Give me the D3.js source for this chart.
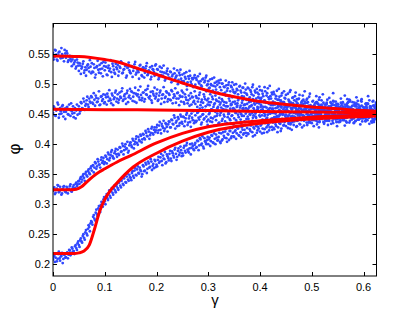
<!DOCTYPE html>
<html>
<head>
<meta charset="utf-8">
<script src="https://cdn.jsdelivr.net/npm/d3@7"></script>
<style>
html,body{margin:0;padding:0;background:#fff;}
svg{display:block;}
</style>
</head>
<body>
<svg id="chart" width="415" height="312"></svg>
<script>
// ---- data: phi values in thousandths. "a" samples sit at gamma = i*0.0025,
// "b" samples sit half a step later, gamma = (i+0.5)*0.0025 ----
const gammaStep = 0.0025;
const xTicks = [0, 0.1, 0.2, 0.3, 0.4, 0.5, 0.6];
const xTickLabels = ["0", "0.1", "0.2", "0.3", "0.4", "0.5", "0.6"];
const yTicks = [0.2, 0.25, 0.3, 0.35, 0.4, 0.45, 0.5, 0.55];
const yTickLabels = ["0.2", "0.25", "0.3", "0.35", "0.4", "0.45", "0.5", "0.55"];

const phi1a = [
552,545,556,541,549,554,543,550,547,557,
544,551,540,547,538,541,533,539,529,536,
522,531,526,534,519,528,524,533,521,529,
535,520,527,516,530,524,532,518,526,537,
523,529,515,531,526,520,534,524,517,528,
532,521,527,536,519,525,530,514,528,523,
518,529,522,533,516,526,520,531,524,513,
527,519,530,515,523,528,512,525,520,531,
517,524,511,521,527,514,519,509,522,516,
510,520,513,506,518,512,523,507,515,509,
516,505,512,520,503,509,514,500,508,511,
499,507,513,501,505,496,509,503,511,498,
505,494,500,509,497,502,491,499,506,495,
490,501,496,486,498,493,503,488,495,491,
499,487,492,483,496,489,480,494,486,491,
482,493,478,487,495,481,489,476,486,483,
490,477,484,472,488,481,493,475,480,486,
471,483,476,489,468,479,473,485,470,477,
482,466,474,487,469,477,462,480,471,468,
476,463,470,481,458,468,474,461,479,465,
459,472,464,455,470,467,478,457,463,469,
456,466,474,451,462,468,459,471,453,464,
467,455,462,448,470,458,452,465,461,474,
450,463,457,469,446,459,466,454,472,449,
461,452,468,457,445,463,455,471,449,460,458];
const phi1b = [
541,557,549,539,553,546,560,544,538,551,
555,537,546,542,530,545,536,526,541,531,
535,517,529,538,523,514,531,527,540,518,
521,533,511,528,539,519,525,535,513,530,
536,516,527,522,540,512,530,519,534,525,
514,529,538,518,524,533,511,527,536,520,
530,512,527,537,519,523,509,532,515,528,
511,526,535,517,521,508,530,524,514,533,
525,508,529,515,520,531,506,518,526,511,
521,503,516,526,509,514,500,519,524,505,
502,518,509,497,513,522,504,510,495,515,
510,494,504,517,498,508,491,506,514,500,
493,508,498,489,511,496,504,486,502,507,
501,484,495,506,489,499,481,497,503,487,
485,500,490,477,497,486,494,479,501,484,
494,475,490,483,499,472,486,492,478,496,
474,489,480,495,470,485,478,497,468,483,
487,466,480,474,492,463,481,469,488,476,
465,484,471,490,460,478,473,486,457,475,
482,459,472,467,488,455,476,464,484,460,
471,452,468,480,458,474,449,466,483,456,
448,469,460,477,454,465,485,450,471,458,
466,447,476,453,462,481,444,468,457,473,
455,470,443,464,478,451,460,445,475,462,
448,467,458,480,446,463,453,472,442,466];

const phi2a = [
452,461,447,458,466,450,455,463,446,459,
454,462,449,457,468,451,445,460,456,449,
463,455,468,459,471,464,473,466,476,469,
478,467,474,481,470,476,465,479,472,483,
470,478,484,472,476,468,481,475,486,471,
483,474,479,488,472,480,476,485,470,481,
476,487,479,471,484,481,490,474,482,477,
486,475,483,492,478,480,473,488,481,476,
484,472,481,489,476,483,470,479,486,475,
482,473,488,477,480,469,485,476,481,471,
479,470,483,474,468,481,476,466,478,472,
467,477,471,482,465,474,469,479,463,473,
476,465,470,479,462,468,474,460,471,466,
461,472,465,457,469,463,476,459,466,470,
458,467,462,473,455,464,469,457,466,460,
467,455,463,471,452,460,466,454,462,468,
453,464,458,470,449,461,456,467,451,459,
465,452,460,447,463,457,471,450,458,462,
449,461,455,468,446,459,452,464,457,444,
460,451,466,454,447,462,456,470,448,458,
452,463,445,457,468,450,459,443,461,455,
466,449,456,442,460,453,467,447,455,462,
446,458,451,465,440,456,462,449,470,453,
459,445,454,466,448,457,441,463,450,456,
447,461,452,468,444,455,459,442,464,450,457];
const phi2b = [
463,448,456,469,444,460,451,465,454,442,
461,450,466,447,455,463,452,443,466,458,
451,470,460,476,457,467,479,462,471,480,
469,485,464,477,471,488,466,480,475,468,
482,466,479,490,473,484,465,478,489,476,
469,486,477,493,474,483,467,489,478,492,
488,472,485,494,469,483,478,496,473,486,
471,490,482,497,476,487,469,484,494,479,
491,474,486,467,482,495,477,488,471,484,
474,490,468,483,493,476,486,465,479,489,
486,467,478,491,473,464,485,479,470,488,
480,462,476,486,470,461,483,475,488,466,
470,483,458,475,466,481,472,456,477,469,
475,458,470,481,463,454,472,467,478,460,
471,452,468,476,461,450,473,465,456,474,
458,470,449,465,475,457,446,469,461,477,
466,448,462,473,455,444,468,460,476,452,
455,469,445,461,474,450,463,441,466,456,
463,447,472,452,458,467,440,462,475,451,
449,465,455,474,443,459,469,446,463,452,
461,441,458,470,448,464,454,473,445,459,
450,467,439,457,463,446,472,452,460,443,
462,448,469,455,441,466,451,475,447,458,
449,464,455,438,468,452,460,446,471,444,
458,443,466,450,473,447,456,439,462,451];

const phi3a = [
322,328,319,326,331,321,324,318,329,323,
320,327,324,330,322,326,332,327,336,333,
339,342,337,347,344,351,348,355,352,360,
356,365,361,368,363,371,366,374,369,377,
370,379,375,383,377,387,380,376,388,383,
391,382,394,388,397,390,400,393,386,398,
403,395,406,400,409,402,412,405,414,408,
416,408,419,413,421,415,426,418,424,420,
428,419,431,424,434,427,422,435,429,433,
437,428,440,433,444,436,430,442,435,446,
434,445,438,449,432,443,437,451,440,435,
448,439,453,441,446,436,450,443,455,438,
441,452,444,437,456,446,440,451,435,448,
454,442,449,438,457,445,451,440,447,459,
443,452,436,449,456,441,447,460,438,451,
455,442,450,463,439,448,454,444,458,437,
446,457,441,452,462,443,449,456,438,453,
459,445,451,440,464,448,455,442,450,461,
444,456,437,452,460,447,453,441,466,449,
455,443,458,448,439,462,450,445,457,436,
453,446,465,442,451,458,437,449,460,444,
456,441,450,463,447,454,439,459,445,467,
448,457,440,453,462,444,451,436,458,449,
461,443,455,447,466,450,441,457,452,438,
454,446,463,440,451,459,445,456,437,462,449];
const phi3b = [
327,317,324,332,320,329,316,325,330,321,
329,318,325,333,321,329,325,334,330,338,
334,345,341,350,339,354,346,358,350,363,
364,353,370,359,375,366,361,378,372,367,
381,368,386,373,382,390,377,385,392,379,
384,395,387,401,383,396,392,404,389,402,
398,409,393,404,413,399,407,416,403,417,
410,422,414,425,409,419,429,416,428,423,
432,423,437,418,430,439,426,433,421,438,
428,441,434,448,426,439,445,431,449,437,
446,430,443,452,436,447,429,444,455,439,
437,452,444,459,433,449,441,457,446,432,
450,438,458,443,431,454,447,462,436,452,
439,458,446,463,435,450,442,465,448,433,
457,440,464,445,453,434,459,447,466,442,
446,461,436,455,444,468,451,433,459,448,
462,440,455,447,469,436,458,451,465,443,
452,437,467,446,456,434,461,449,470,441,
458,443,463,435,454,468,446,460,439,457,
447,466,441,456,471,444,452,436,463,450,
440,459,448,469,437,455,464,443,457,434,
462,445,456,439,470,451,443,465,448,457,
437,460,449,468,444,455,438,463,452,471,
446,458,435,463,449,472,441,455,464,443,
459,438,452,467,445,461,436,457,448,469];

const phi4a = [
208,215,211,205,217,210,213,219,209,216,
212,220,216,223,219,226,222,230,227,235,
232,240,238,247,244,253,251,259,262,268,
270,279,276,286,283,293,290,299,303,308,
305,313,310,318,314,322,319,326,323,330,
327,336,331,339,334,343,337,346,341,349,
344,352,347,356,349,358,352,361,355,350,
363,356,366,359,368,362,371,364,360,372,
366,374,369,378,372,381,375,368,383,377,
384,376,388,381,391,384,379,393,386,390,
385,394,389,398,391,386,400,394,397,390,
402,395,405,398,408,401,396,410,403,407,
400,411,405,414,402,409,416,406,412,404,
418,408,414,421,410,417,407,422,413,419,
412,423,418,426,414,420,428,416,424,419,
427,417,425,431,420,428,415,430,423,426,
421,433,426,419,435,428,431,423,437,429,
436,425,433,440,428,435,422,438,431,437,
430,441,434,426,444,437,432,445,429,439,
443,433,440,448,431,442,436,449,438,445,
435,446,440,452,433,444,438,450,442,437,
448,439,455,441,446,434,451,443,449,437,
442,453,438,447,456,440,449,444,458,436,
451,441,455,446,439,452,448,460,443,450,
445,457,440,452,447,461,438,454,449,443,456];
const phi4b = [
213,204,218,209,221,206,214,202,216,211,
218,210,224,215,228,221,217,232,224,238,
229,243,236,250,241,257,248,265,255,272,
266,282,273,291,280,297,287,304,296,312,
300,317,307,323,311,327,316,331,320,334,
324,339,328,343,332,348,336,351,339,345,
340,355,344,360,348,363,351,357,346,365,
355,369,352,371,361,375,357,367,374,362,
363,379,371,384,365,376,387,370,380,373,
389,372,385,378,394,374,389,382,396,380,
381,397,386,402,388,393,383,401,392,399,
394,406,390,410,399,413,393,405,400,412,
408,397,415,403,418,400,411,407,419,402,
406,420,411,425,404,416,422,410,427,413,
421,409,427,415,430,411,424,418,432,414,
418,432,422,436,413,426,434,419,429,438,
431,418,438,425,441,420,433,428,442,424,
427,443,430,420,446,434,426,441,432,447,
440,427,448,433,424,445,438,451,430,442,
434,450,428,446,441,455,432,444,437,452,
447,430,454,439,448,428,451,443,457,436,
440,456,432,449,445,459,435,452,441,430,
451,437,460,443,449,431,455,446,462,439,
444,458,436,453,463,441,450,433,457,447,
452,439,461,445,434,456,448,464,441,453];

// model curves: [gamma, phi]
const curve1 = [[0,0.547],[0.05,0.546],[0.1,0.541],[0.125,0.537],[0.15,0.53],[0.175,0.523],[0.2,0.516],[0.25,0.502],[0.3,0.489],[0.35,0.479],[0.4,0.471],[0.45,0.466],[0.5,0.462],[0.55,0.459],[0.6,0.456],[0.625,0.455]];
const curve2 = [[0,0.458],[0.1,0.4575],[0.2,0.457],[0.3,0.456],[0.4,0.4545],[0.5,0.4535],[0.625,0.452]];
const curve3 = [[0,0.324],[0.03,0.324],[0.045,0.325],[0.055,0.329],[0.065,0.337],[0.077,0.346],[0.09,0.354],[0.1,0.359],[0.123,0.37],[0.15,0.381],[0.2,0.402],[0.25,0.418],[0.3,0.429],[0.35,0.435],[0.4,0.439],[0.5,0.445],[0.625,0.449]];
const curve4 = [[0,0.218],[0.04,0.218],[0.05,0.219],[0.06,0.222],[0.07,0.232],[0.08,0.258],[0.09,0.288],[0.1,0.308],[0.11,0.322],[0.123,0.335],[0.155,0.362],[0.2,0.385],[0.25,0.405],[0.3,0.42],[0.35,0.429],[0.4,0.435],[0.5,0.442],[0.625,0.447]];

// ---- layout ----
const svg = d3.select("#chart");
const L = 53, R = 376.5, T = 23.5, B = 276;
const x = d3.scaleLinear().domain([0, 0.625]).range([L, R]);
const y = d3.scaleLinear().domain([0.1805, 0.601]).range([B, T]);

svg.append("defs").append("clipPath").attr("id", "clip")
  .append("rect").attr("x", L).attr("y", T).attr("width", R - L).attr("height", B - T);

const plot = svg.append("g").attr("clip-path", "url(#clip)");
const dotColor = "#3047ff";
const series = [[phi1a, phi1b], [phi2a, phi2b], [phi3a, phi3b], [phi4a, phi4b]];
series.forEach(([a, b]) => {
  const pts = a.map((v, i) => [i * gammaStep, v / 1000])
    .concat(b.map((v, i) => [(i + 0.5) * gammaStep, v / 1000]));
  plot.append("g").selectAll("circle")
    .data(pts)
    .join("circle")
    .attr("cx", d => x(d[0]))
    .attr("cy", d => y(d[1]))
    .attr("r", 1.4)
    .attr("fill", dotColor);
});

const line = d3.line().x(d => x(d[0])).y(d => y(d[1])).curve(d3.curveMonotoneX);
[curve1, curve2, curve3, curve4].forEach(c => {
  plot.append("path").attr("d", line(c))
    .attr("fill", "none").attr("stroke", "#ff0000").attr("stroke-width", 3)
    .attr("stroke-linecap", "round");
});

// ---- axes (box with inward ticks) ----
const font = "'Liberation Sans', Arial, sans-serif";
const axisG = svg.append("g");
const tickLen = 4;
axisG.append("rect").attr("x", L).attr("y", T).attr("width", R - L).attr("height", B - T)
  .attr("fill", "none").attr("stroke", "#000").attr("stroke-width", 1);

xTicks.forEach((t, i) => {
  const px = Math.round(x(t)) + 0.5;
  axisG.append("line").attr("x1", px).attr("x2", px).attr("y1", B).attr("y2", B - tickLen).attr("stroke", "#000");
  axisG.append("line").attr("x1", px).attr("x2", px).attr("y1", T).attr("y2", T + tickLen).attr("stroke", "#000");
  axisG.append("text").attr("x", x(t)).attr("y", 290.5).attr("text-anchor", "middle")
    .attr("font-family", font).attr("font-size", 11).text(xTickLabels[i]);
});
yTicks.forEach((t, i) => {
  const py = Math.round(y(t)) + 0.5;
  axisG.append("line").attr("x1", L).attr("x2", L + tickLen).attr("y1", py).attr("y2", py).attr("stroke", "#000");
  axisG.append("line").attr("x1", R).attr("x2", R - tickLen).attr("y1", py).attr("y2", py).attr("stroke", "#000");
  axisG.append("text").attr("x", 50).attr("y", y(t) + 4).attr("text-anchor", "end")
    .attr("font-family", font).attr("font-size", 11).text(yTickLabels[i]);
});

svg.append("text").attr("x", 215).attr("y", 305).attr("text-anchor", "middle")
  .attr("font-family", font).attr("font-size", 15).text("γ");
svg.append("text").attr("transform", "translate(20,149) rotate(-90)").attr("text-anchor", "middle")
  .attr("font-family", font).attr("font-size", 17).text("φ");
</script>
</body>
</html>
